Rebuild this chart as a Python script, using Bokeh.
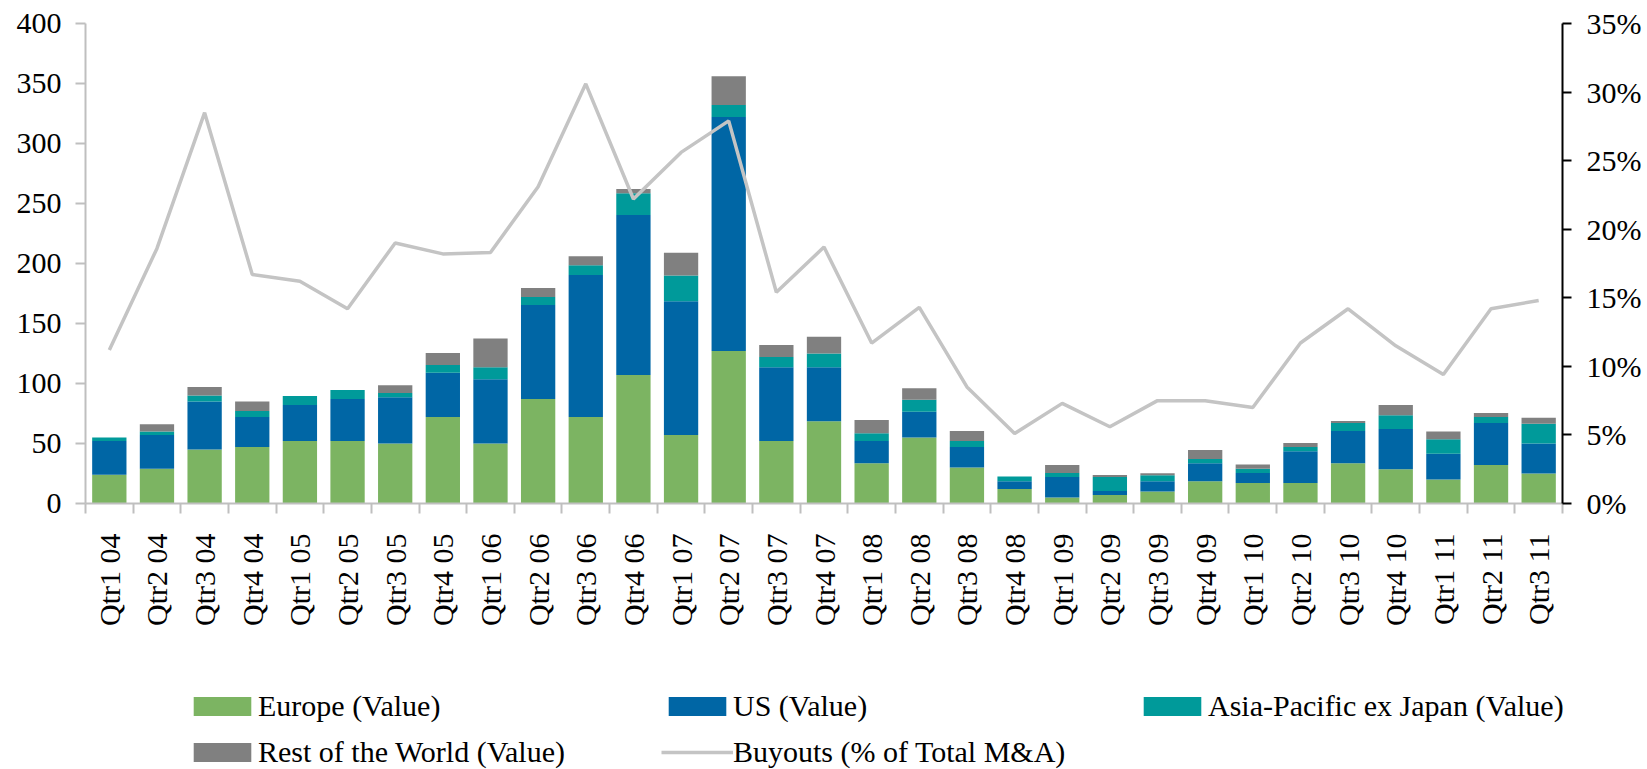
import math
from bokeh.plotting import figure
from bokeh.layouts import column
from bokeh.models import (Range1d, LinearAxis, FixedTicker, NumeralTickFormatter,
                          Legend, LegendItem, ColumnDataSource)
from bokeh.embed import file_html
from bokeh.resources import INLINE

quarters = ["Qtr1 04", "Qtr2 04", "Qtr3 04", "Qtr4 04", "Qtr1 05", "Qtr2 05", "Qtr3 05", "Qtr4 05",
            "Qtr1 06", "Qtr2 06", "Qtr3 06", "Qtr4 06", "Qtr1 07", "Qtr2 07", "Qtr3 07", "Qtr4 07",
            "Qtr1 08", "Qtr2 08", "Qtr3 08", "Qtr4 08", "Qtr1 09", "Qtr2 09", "Qtr3 09", "Qtr4 09",
            "Qtr1 10", "Qtr2 10", "Qtr3 10", "Qtr4 10", "Qtr1 11", "Qtr2 11", "Qtr3 11"]
europe = [24, 29, 45, 47, 52, 52, 50, 72, 50, 87, 72, 107, 57, 127, 52, 68.5,
          33.5, 55, 30, 12, 5, 7, 10, 18.5, 17, 17, 33.5, 28.5, 20, 32, 25]
us = [28, 28, 40, 25, 30, 35, 38.5, 37, 53.5, 78.5, 118.5, 133.5, 111.5, 195, 61.5, 45,
      18.5, 21.5, 17, 6.5, 17, 3.5, 8.5, 15, 8.5, 26.5, 27, 33.5, 21.5, 35, 25]
apac = [3, 3, 5, 5, 7.5, 7.5, 3.5, 6.5, 10, 6.5, 8, 18, 21.5, 10, 8.5, 11.5,
        6.5, 10, 5, 4, 3.5, 11.5, 5, 3.5, 3.5, 3.5, 6.5, 11.5, 12, 5, 16.5]
rest_world = [0, 6, 7, 8, 0, 0, 6.5, 10, 24, 7.5, 7.5, 3.5, 19, 24, 10, 14,
              11, 9.5, 8.5, 0, 6.5, 1.7, 1.7, 7.5, 3.5, 3.5, 1.7, 8.5, 6.5, 3.5, 5]
buyouts_pct = [11.2, 18.6, 28.5, 16.7, 16.2, 14.2, 19.0, 18.2, 18.3, 23.1, 30.6, 22.2,
               25.6, 27.9, 15.4, 18.7, 11.7, 14.3, 8.5, 5.1, 7.3, 5.6, 7.5, 7.5,
               7.0, 11.7, 14.2, 11.5, 9.4, 14.2, 14.8]
left_ticks = [0, 50, 100, 150, 200, 250, 300, 350, 400]
right_ticks = [0, 0.05, 0.10, 0.15, 0.20, 0.25, 0.30, 0.35]

series_names = ["Europe (Value)", "US (Value)", "Asia-Pacific ex Japan (Value)", "Rest of the World (Value)"]
line_name = "Buyouts (% of Total M&A)"
colors = ["#7CB462", "#0066A5", "#009A9A", "#808080"]
line_color = "#C4C4C4"
FONT = "Liberation Serif"

W, H_MAIN, H_LEG = 1647, 680, 89

n = len(quarters)
xs = [i + 0.5 for i in range(n)]
src = ColumnDataSource(dict(x=xs, europe=europe, us=us, apac=apac, row=rest_world,
                            pct=[v / 100 for v in buyouts_pct]))
stack_cols = ["europe", "us", "apac", "row"]

p = figure(width=W, height=H_MAIN, output_backend="svg", toolbar_location=None,
           x_range=Range1d(0, n), y_range=Range1d(0, 400),
           min_border_left=85, min_border_right=85, min_border_top=23,
           min_border_bottom=H_MAIN - 23 - 480)
p.frame_align = False
p.extra_y_ranges = {"pct": Range1d(0, 0.35)}
p.outline_line_color = None
p.xgrid.visible = False
p.ygrid.visible = False
p.xaxis.visible = False
p.yaxis.visible = False
p.background_fill_color = "white"
p.border_fill_color = "white"

bars = p.vbar_stack(stack_cols, x="x", width=0.72, source=src,
                    color=colors, line_color=None)
ln = p.line("x", "pct", source=src, y_range_name="pct", line_color=line_color, line_width=3.5)

# bottom axis: labels at category centres, ticks at category boundaries
xa = LinearAxis(ticker=FixedTicker(ticks=xs, minor_ticks=list(range(n + 1))))
xa.major_label_overrides = {x: q for x, q in zip(xs, quarters)}
xa.major_label_orientation = math.pi / 2
xa.major_tick_out = 0
xa.major_tick_in = 0
xa.minor_tick_out = 10
xa.minor_tick_in = 0
xa.minor_tick_line_color = "#BFBFBF"
xa.minor_tick_line_width = 2
xa.axis_line_color = "#BFBFBF"
xa.axis_line_width = 2
xa.major_label_text_font = FONT
xa.major_label_text_font_size = "30px"
xa.major_label_text_color = "black"
xa.major_label_standoff = 20
p.add_layout(xa, "below")

# left axis
ya = LinearAxis(ticker=FixedTicker(ticks=left_ticks, minor_ticks=[]))
ya.major_tick_out = 10
ya.major_tick_in = 0
ya.minor_tick_out = 0
ya.minor_tick_in = 0
ya.major_tick_line_color = "#BFBFBF"
ya.major_tick_line_width = 2
ya.axis_line_color = "#BFBFBF"
ya.axis_line_width = 2
ya.major_label_text_font = FONT
ya.major_label_text_font_size = "30px"
ya.major_label_text_color = "black"
ya.major_label_standoff = 14
p.add_layout(ya, "left")

# right axis
ra = LinearAxis(y_range_name="pct", ticker=FixedTicker(ticks=right_ticks, minor_ticks=[]),
                formatter=NumeralTickFormatter(format="0%"))
ra.major_tick_out = 9
ra.major_tick_in = 0
ra.minor_tick_out = 0
ra.minor_tick_in = 0
ra.major_tick_line_color = "black"
ra.major_tick_line_width = 2
ra.axis_line_color = "black"
ra.axis_line_width = 2
ra.major_label_text_font = FONT
ra.major_label_text_font_size = "30px"
ra.major_label_text_color = "black"
ra.major_label_standoff = 15
p.add_layout(ra, "right")

# legend strip below the chart; its swatch renderers sit outside the strip's view
pl = figure(width=W, height=H_LEG, output_backend="svg", toolbar_location=None,
            x_range=Range1d(-20, -19), y_range=Range1d(-20, -19),
            x_axis_type=None, y_axis_type=None,
            min_border_left=0, min_border_right=0, min_border_top=0, min_border_bottom=0)
pl.frame_align = False
pl.outline_line_color = None
pl.xgrid.visible = False
pl.ygrid.visible = False
pl.background_fill_color = "white"
pl.border_fill_color = "white"
leg_items = []
for name, col, c in zip(series_names, stack_cols, colors):
    r = pl.vbar(x="x", top=col, width=0.72, source=src, color=c, line_color=None)
    leg_items.append(LegendItem(label=name, renderers=[r]))
rl = pl.line("x", "pct", source=src, line_color=line_color, line_width=3.5)
leg_items.append(LegendItem(label=line_name, renderers=[rl]))

legend = Legend(items=leg_items, orientation="horizontal", ncols=3,
                location=(186, 0), margin=0, padding=0, spacing=12,
                glyph_width=72, glyph_height=24, label_standoff=0, label_width=391,
                label_text_font=FONT, label_text_font_size="30px", label_text_color="black",
                border_line_color=None, background_fill_alpha=0)
pl.add_layout(legend, "center")

open("out.html", "w").write(file_html(column(p, pl, spacing=0), INLINE))
